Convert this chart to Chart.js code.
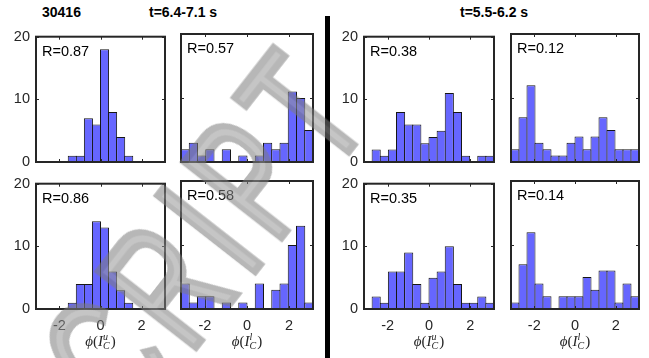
<!DOCTYPE html>
<html>
<head>
<meta charset="utf-8">
<script src="https://cdn.jsdelivr.net/npm/chart.js@4.4.1/dist/chart.umd.min.js"></script>
<style>
  body { margin: 0; background: #fff; width: 649px; height: 358px; overflow: hidden; position: relative; font-family: 'Liberation Sans', Arial, sans-serif; }
  canvas { position: absolute; }
  .ttl { position: absolute; top: 4px; font-weight: bold; font-size: 14px; color: #000; white-space: nowrap; }
  #divider { position: absolute; left: 325px; top: 16px; width: 5px; height: 342px; background: #000; }
  #wm { position: absolute; left: 180px; top: 268px; transform: translate(-50%, -50%) rotate(-52deg) scaleY(1.55);
        font: normal 115px 'Liberation Sans', Arial, sans-serif; line-height: 1; letter-spacing: 12px;
        color: rgb(150,150,150); -webkit-text-stroke: 5px rgb(125,125,125); opacity: 0.55;
        white-space: nowrap; pointer-events: none; }
</style>
</head>
<body>
<div class="ttl" id="shot"></div>
<div class="ttl" id="win1"></div>
<div class="ttl" id="win2"></div>
<div id="divider"></div>

<script>
// data
const shotNumber = '30416';
const timeWindows = ['t=6.4-7.1 s', 't=5.5-6.2 s'];
const binCount = 16;            // histogram bins over [-pi, pi]
const xTickValues = [-2, 0, 2];
const yTickValues = [0, 10, 20];

// counts per bin, left to right
const countsW1TopU = [0, 0, 0, 0, 1, 1, 7, 6, 18, 8, 4, 1, 0, 0, 0, 0];
const countsW1TopL = [2, 3, 1, 2, 0, 2, 0, 1, 0, 1, 3, 2, 3, 11, 10, 5];
const countsW2TopU = [0, 2, 1, 2, 8, 6, 6, 3, 4, 5, 11, 8, 1, 0, 1, 1];
const countsW2TopL = [2, 7, 12, 3, 2, 1, 1, 3, 4, 2, 4, 7, 5, 2, 2, 2];
const countsW1BotU = [0, 0, 0, 0, 1, 4, 4, 14, 13, 6, 3, 1, 0, 0, 0, 0];
const countsW1BotL = [4, 1, 2, 2, 0, 1, 0, 1, 0, 4, 0, 3, 4, 10, 13, 1];
const countsW2BotU = [0, 2, 1, 6, 6, 9, 4, 1, 5, 6, 10, 4, 1, 1, 2, 1];
const countsW2BotL = [1, 7, 12, 4, 2, 0, 2, 2, 2, 5, 3, 6, 6, 1, 4, 2];

const rTop = [0.87, 0.57, 0.38, 0.12];
const rBot = [0.86, 0.58, 0.35, 0.14];
const labelSup = ['u', 'l', 'u', 'l'];

// layout (page pixels)
const cols = [{ x: 36, w: 129 }, { x: 181, w: 132 }, { x: 364, w: 130 }, { x: 511, w: 128 }];
const rows = [{ y: 34, h: 128 }, { y: 181, h: 128 }];
const PAD_L = 36, PAD_T = 12, PAD_R = 8, PAD_B = 50;
const xLabelY = 342;

document.getElementById('shot').textContent = shotNumber;
document.getElementById('shot').style.left = '42px';
const w1 = document.getElementById('win1');
w1.textContent = timeWindows[0];
const w2 = document.getElementById('win2');
w2.textContent = timeWindows[1];

const binWidth = 2 * Math.PI / binCount;
const binCenters = [];
for (let i = 0; i < binCount; i++) binCenters.push(-Math.PI + (i + 0.5) * binWidth);

// box, inner ticks, R value and the x label
const framePlugin = {
  id: 'frame',
  afterDatasetsDraw(chart, args, opts) {
    const { ctx, chartArea: a, scales: { x, y } } = chart;
    ctx.save();
    ctx.strokeStyle = '#262626';
    ctx.lineWidth = 1;
    ctx.beginPath();
    xTickValues.forEach(v => {
      const px = Math.round(x.getPixelForValue(v)) + 0.5;
      ctx.moveTo(px, a.bottom); ctx.lineTo(px, a.bottom - 3);
      ctx.moveTo(px, a.top); ctx.lineTo(px, a.top + 3);
    });
    yTickValues.forEach(v => {
      const py = Math.round(y.getPixelForValue(v)) + 0.5;
      ctx.moveTo(a.left, py); ctx.lineTo(a.left + 3, py);
      ctx.moveTo(a.right, py); ctx.lineTo(a.right - 3, py);
    });
    ctx.stroke();
    ctx.lineWidth = 2;
    ctx.strokeRect(a.left, a.top, a.right - a.left, a.bottom - a.top);

    ctx.fillStyle = '#000';
    ctx.font = '14.5px "Liberation Sans", Arial, sans-serif';
    ctx.textBaseline = 'middle';
    ctx.textAlign = 'left';
    ctx.fillText('R=' + opts.r.toFixed(2), a.left + 6, a.top + 15);

    if (opts.xlabel) {
      const serif = '"Liberation Serif", "DejaVu Serif", serif';
      const parts = [
        { t: '\u03D5', f: 'italic 15px ' + serif, dy: 0 },
        { t: '(', f: '15px ' + serif, dy: 0 },
        { t: 'I', f: 'italic 15px ' + serif, dy: 0 },
        { t: opts.sup, f: 'italic 10px ' + serif, dy: -5, stack: true },
        { t: 'C', f: 'italic 10px ' + serif, dy: 4 },
        { t: ')', f: '15px ' + serif, dy: 0, gap: 1 }
      ];
      let total = 0;
      parts.forEach(p => { ctx.font = p.f; p.w = ctx.measureText(p.t).width; });
      parts.forEach(p => { if (!p.stack) total += p.w + (p.gap || 0); });
      let cx = (a.left + a.right) / 2 - total / 2;
      const cy = opts.labelY;
      ctx.fillStyle = '#262626';
      ctx.textBaseline = 'middle';
      parts.forEach(p => {
        ctx.font = p.f;
        cx += (p.gap || 0);
        ctx.fillText(p.t, cx, cy + p.dy);
        if (!p.stack) cx += p.w;
      });
    }
    ctx.restore();
  }
};

function makePanel(counts, col, row, r) {
  const c = cols[col], rw = rows[row];
  const cv = document.createElement('canvas');
  const left = c.x - PAD_L, top = rw.y - PAD_T;
  cv.width = c.w + PAD_L + PAD_R;
  cv.height = rw.h + PAD_T + PAD_B;
  cv.style.left = left + 'px';
  cv.style.top = top + 'px';
  document.body.appendChild(cv);

  const showY = col === 0 || col === 2;
  const showX = row === 1;
  const binPx = c.w / binCount;

  new Chart(cv.getContext('2d'), {
    type: 'bar',
    data: {
      datasets: [{
        data: counts.map((n, i) => ({ x: binCenters[i], y: n })),
        backgroundColor: '#6666ff',
        borderColor: '#161616',
        borderWidth: 1,
        borderSkipped: 'start',
        inflateAmount: 0,
        barPercentage: (binPx + 1) / binPx,
        categoryPercentage: 1
      }]
    },
    options: {
      responsive: false,
      animation: false,
      events: [],
      layout: { padding: { left: 0, top: PAD_T, right: PAD_R, bottom: 0 } },
      plugins: {
        legend: { display: false },
        tooltip: { enabled: false },
        frame: { r: r, xlabel: showX, sup: labelSup[col], labelY: xLabelY - top }
      },
      scales: {
        x: {
          type: 'linear',
          min: -Math.PI,
          max: Math.PI,
          offset: false,
          grid: { display: false, drawTicks: false },
          border: { display: false },
          afterBuildTicks: s => { s.ticks = xTickValues.map(v => ({ value: v })); },
          afterFit: s => { s.height = PAD_B; },
          ticks: {
            display: showX,
            autoSkip: false,
            maxRotation: 0,
            padding: 8,
            color: '#262626',
            font: { family: '"Liberation Sans", Arial, sans-serif', size: 14.5 },
            callback: v => String(v)
          }
        },
        y: {
          min: 0,
          max: 20,
          grid: { display: false, drawTicks: false },
          border: { display: false },
          afterBuildTicks: s => { s.ticks = yTickValues.map(v => ({ value: v })); },
          afterFit: s => { s.width = PAD_L; },
          ticks: {
            display: showY,
            padding: 6,
            color: '#262626',
            font: { family: '"Liberation Sans", Arial, sans-serif', size: 14.5 }
          }
        }
      }
    },
    plugins: [framePlugin]
  });
}

makePanel(countsW1TopU, 0, 0, rTop[0]);
makePanel(countsW1TopL, 1, 0, rTop[1]);
makePanel(countsW2TopU, 2, 0, rTop[2]);
makePanel(countsW2TopL, 3, 0, rTop[3]);
makePanel(countsW1BotU, 0, 1, rBot[0]);
makePanel(countsW1BotL, 1, 1, rBot[1]);
makePanel(countsW2BotU, 2, 1, rBot[2]);
makePanel(countsW2BotL, 3, 1, rBot[3]);

// centre the window titles over their panel pairs
[[w1, 183], [w2, 494]].forEach(([el, cx]) => {
  el.style.left = (cx - el.offsetWidth / 2) + 'px';
});

// watermark on top
const wm = document.createElement('div');
wm.id = 'wm';
wm.textContent = 'SCRIPT';
document.body.appendChild(wm);
</script>
</body>
</html>
